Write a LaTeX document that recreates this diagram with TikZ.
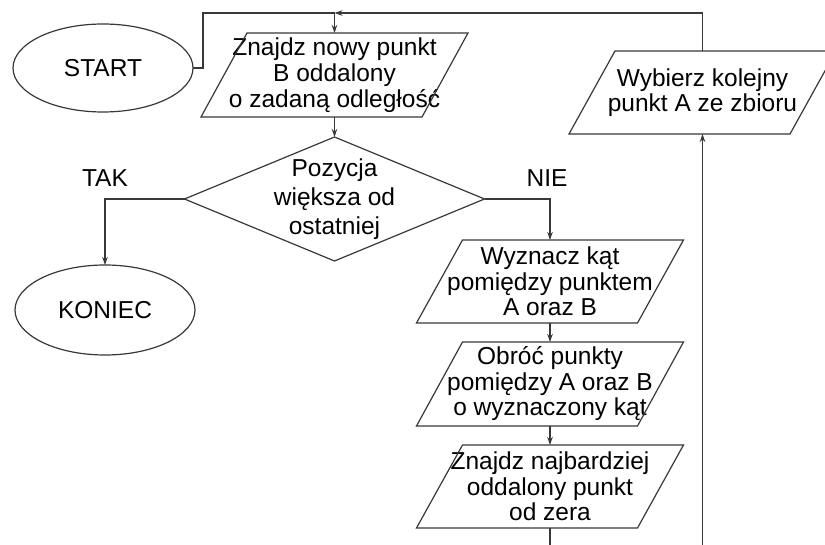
\documentclass[tikz,border=0pt]{standalone}
\usepackage{fontspec}
\setmainfont{Liberation Sans}
\usetikzlibrary{shapes.geometric,arrows.meta}
\begin{document}
\begin{tikzpicture}[x=1pt,y=1pt,
  line/.style={draw=black!78, line width=1.2pt},
  arr/.style={line, -{Stealth[length=8pt,width=5.5pt]}},
  txt/.style={font=\fontsize{24.5}{25.5}\selectfont, align=center, inner sep=0pt, outer sep=0pt},
  term/.style={txt, ellipse, line, minimum width=180pt, minimum height=88pt},
  io/.style={txt, rectangle, minimum width=221pt, minimum height=84pt},
  dec/.style={diamond, line, minimum width=300pt, minimum height=124pt, inner sep=0pt, outer sep=0pt, aspect=2.42},
  lbl/.style={font=\fontsize{24.5}{26}\selectfont, inner sep=0pt}
]
\useasboundingbox (0,0) rectangle (825,544);
\clip (0,0) rectangle (825,544);
\node[term] (start) at (103,476) {START};
\node[term, minimum height=90pt] (koniec) at (105,234) {KONIEC};
\node[io] (p1) at (334.5,469) {\raisebox{-4pt}{\shortstack{Znajdz nowy punkt\\B oddalony\\o zadaną odległość}}};
\node[dec] (dec) at (334.5,345) {};
\node[txt, font=\fontsize{24.5}{29}\selectfont] (dectext) at (dec.center) {Pozycja\\większa od\\ostatniej};
\node[io, minimum height=83pt] (wyz) at (550,262.5) {Wyznacz kąt\\pomiędzy punktem\\A oraz B};
\node[io] (obr) at (550,160) {Obróć punkty\\pomiędzy A oraz B\\o wyznaczony kąt};
\node[io, minimum height=83pt] (zna) at (550,57.5) {Znajdz najbardziej\\oddalony punkt\\od zera};
\node[io, minimum height=83pt] (wyb) at (702.5,451.5) {Wybierz kolejny\\punkt A ze zbioru};
\foreach \n in {p1,wyz,obr,zna,wyb}
  \draw[line] ([xshift=23pt]\n.north west) -- ([xshift=23pt]\n.north east) -- ([xshift=-23pt]\n.south east) -- ([xshift=-23pt]\n.south west) -- cycle;
\node[lbl] (tak) at (105,366) {TAK};
\node[lbl] (nie) at (547,366) {NIE};
\coordinate (join) at (334.5,531);
\coordinate (bot1) at (550,-2);
\coordinate (bot2) at (702.5,-2);
\draw[line] (start.east) -- ++(10,0) |- (join);
\draw[arr] (wyb.north) |- (join);
\draw[arr] (join) -- (p1.north);
\draw[arr] (p1.south) -- (dec.north);
\draw[arr] (dec.west) -| (koniec.north);
\draw[arr] (dec.east) -| (wyz.north);
\draw[arr] (wyz.south) -- (obr.north);
\draw[arr] (obr.south) -- (zna.north);
\draw[line] (zna.south) -- (bot1);
\draw[arr] (bot2) -- (wyb.south);
\end{tikzpicture}
\end{document}
